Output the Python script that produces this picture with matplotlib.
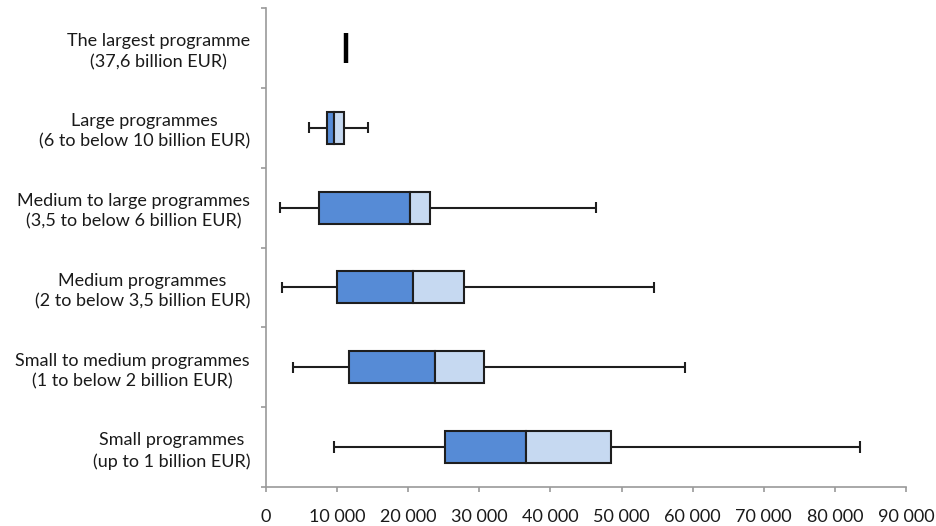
import matplotlib.pyplot as plt
from matplotlib.ticker import FixedLocator, FuncFormatter

# Programme size classes (top to bottom)
categories = [
    "The largest programme\n(37,6 billion EUR)",
    "Large programmes\n(6 to below 10 billion EUR)",
    "Medium to large programmes\n(3,5 to below 6 billion EUR)",
    "Medium programmes\n(2 to below 3,5 billion EUR)",
    "Small to medium programmes\n(1 to below 2 billion EUR)",
    "Small programmes\n(up to 1 billion EUR)",
]

# Five-number summaries per class
whisker_low = [11200, 6100, 1900, 2300, 3800, 9600]
q1 = [11200, 8550, 7500, 10000, 11700, 25200]
median = [11200, 9600, 20300, 20700, 23700, 36500]
q3 = [11200, 10900, 23100, 27900, 30600, 48500]
whisker_high = [11200, 14400, 46400, 54600, 58900, 83500]

x_ticks = [0, 10000, 20000, 30000, 40000, 50000, 60000, 70000, 80000, 90000]

DARK = "#568bd6"
LIGHT = "#c6d9f1"
EDGE = "#1e1e1e"
AXIS = "#9a9a9a"

plt.rcParams["font.family"] = ["Lato", "DejaVu Sans"]

fig = plt.figure(figsize=(9.37, 5.26), dpi=100)
ax = fig.add_axes([266 / 937, 1 - 487 / 526, 640 / 937, 479 / 526])

box_h = 0.40
cap_h = 0.14
for i in range(len(categories)):
    if q1[i] == q3[i]:
        # single-value class drawn as a thick bar
        ax.vlines(median[i], i - 0.19, i + 0.19, color="black", lw=3.2, zorder=3)
        continue
    ax.hlines(i, whisker_low[i], q1[i], color=EDGE, lw=1.5, zorder=1)
    ax.hlines(i, q3[i], whisker_high[i], color=EDGE, lw=1.5, zorder=1)
    ax.vlines([whisker_low[i], whisker_high[i]], i - cap_h / 2, i + cap_h / 2,
              color=EDGE, lw=1.5, zorder=1)
    ax.barh(i, median[i] - q1[i], left=q1[i], height=box_h, color=DARK,
            edgecolor=EDGE, linewidth=1.5, zorder=2)
    ax.barh(i, q3[i] - median[i], left=median[i], height=box_h, color=LIGHT,
            edgecolor=EDGE, linewidth=1.5, zorder=2)

ax.set_xlim(0, 90000)
ax.set_ylim(5.5, -0.5)

for side in ("top", "right"):
    ax.spines[side].set_visible(False)
for side in ("left", "bottom"):
    ax.spines[side].set_color(AXIS)
    ax.spines[side].set_linewidth(1.2)

ax.set_xticks(x_ticks)
ax.xaxis.set_major_formatter(FuncFormatter(lambda v, p: f"{int(v):,}".replace(",", " ")))
ax.tick_params(axis="x", direction="out", length=3.6, width=1.2, color=AXIS,
               pad=12, labelsize=13, labelcolor="#1a1a1a")

ax.set_yticks(range(len(categories)))
ax.set_yticklabels(categories, multialignment="center", linespacing=1.35)
ax.tick_params(axis="y", which="major", length=0, pad=11.5, labelsize=13,
               labelcolor="#1a1a1a")
ax.yaxis.set_minor_locator(FixedLocator([k - 0.5 for k in range(len(categories) + 1)]))
ax.tick_params(axis="y", which="minor", direction="out", length=3.6, width=1.2, color=AXIS)

fig.savefig("out.png", dpi=100, facecolor="white")
